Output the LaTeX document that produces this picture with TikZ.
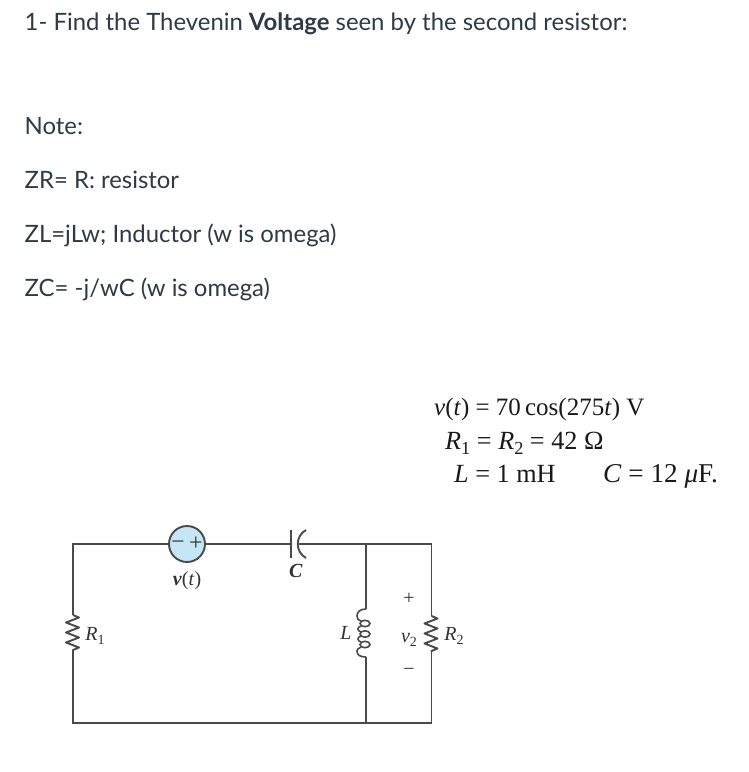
\documentclass[tikz,border=0pt]{standalone}
\usepackage{fontspec}
\setmainfont{Lato}
\newfontfamily\serifb{Liberation Serif}
\definecolor{wirec}{HTML}{4A4A4A}
\definecolor{txtc}{HTML}{2D3B45}
\definecolor{srcc}{HTML}{C4E6F5}
\tikzset{
  wire/.style={draw=wirec,line width=1.9pt},
  prose/.style={anchor=base west,inner sep=0pt,text=txtc,font=\fontsize{23.9}{28}\selectfont},
  eqn/.style={anchor=base west,inner sep=0pt,text=black!90,font=\serifb\fontsize{25}{28}\selectfont},
  eqnb/.style={eqn,font=\serifb\fontsize{26.2}{28}\selectfont},
  eqnc/.style={eqn,font=\serifb\fontsize{27.2}{28}\selectfont},
  lbl/.style={anchor=base,inner sep=0pt,text=black!80,font=\serifb\fontsize{20}{22}\selectfont},
  src/.style={circle,draw=wirec,line width=1.9pt,fill=srcc,minimum size=36pt,inner sep=0pt},
  sign/.style={inner sep=0pt,text=black!80,font=\serifb\fontsize{24}{24}\selectfont}
}
\newcommand{\ital}[1]{\textit{#1}}
\newcommand{\lowsub}[1]{\raisebox{-0.2em}{\scalebox{0.7}{#1}}}
\begin{document}
\begin{tikzpicture}[x=1pt,y=-1pt]
\useasboundingbox (0,0) rectangle (748,772);
\fill[white] (0,0) rectangle (748,772);
% prose
\node[prose] (t1) at (24.5,30) {1- Find the Thevenin \textbf{Voltage} seen by the second resistor:};
\node[prose] (t2) at (24.5,134) {Note:};
\node[prose] (t3) at (24.5,188) {ZR= R: resistor};
\node[prose] (t4) at (24.5,242) {ZL=jLw; Inductor (w is omega)};
\node[prose] (t5) at (24.5,296) {ZC= -j/wC (w is omega)};
% equations
\node[eqn] (e1) at (434,415) {\ital{v}(\ital{t}) = 70\,cos(275\ital{t}) V};
\node[eqnb] (e2) at (445,449) {\ital{R}\lowsub{1} = \ital{R}\lowsub{2} = 42 Ω};
\node[eqnb] (e3) at (454,482) {\ital{L} = 1 mH};
\node[eqnc] (e4) at (603,482) {\ital{C} = 12 \ital{μ}F.};
% corners
\coordinate (tl) at (73,544);
\coordinate (bl) at (73,723);
\coordinate (tm) at (366,544);
\coordinate (bm) at (366,723);
\coordinate (tr) at (431.5,544);
\coordinate (br) at (431.5,723);
\coordinate (r1a) at (73,615);
\coordinate (r1b) at (73,652);
\coordinate (r2a) at (431.5,616);
\coordinate (r2b) at (431.5,652);
\coordinate (la) at (366,609);
\coordinate (lb) at (366,657);
\coordinate (c1) at (291,544);
\coordinate (c2) at (299,544);
% source
\node[src] (vs) at (187,544) {};
\node[sign] (vm) at (178,545) {−};
\node[sign] (vp) at (196,544) {+};
% wires
\draw[wire] (r1a) -- (tl) -- (vs);
\draw[wire] (vs) -- (c1);
\draw[wire] (c2) -- (tr) -- (r2a);
\draw[wire] (r1b) -- (bl) -- (br) -- (r2b);
\draw[wire] (tm) -- (la);
\draw[wire] (lb) -- (bm);
% capacitor
\draw[wire] (291,530) -- (291,558);
\draw[wire] (306,530) .. controls (295,536) and (295,552) .. (306,558);
% resistors
\draw[wire,line join=round] (r1a) -- ++(6,2.5) -- ++(-13,5) -- ++(13,5) -- ++(-13,5) -- ++(13,5) -- ++(-13,5) -- ++(13,5) -- ++(-6,2.5) -- (r1b);
\draw[wire,line join=round] (r2a) -- ++(6,2.5) -- ++(-13,5) -- ++(13,5) -- ++(-13,5) -- ++(13,5) -- ++(-13,5) -- ++(13,5) -- ++(-6,2.5) -- (r2b);
% inductor
\draw[wire,line width=1.6pt] (la) .. controls (360,609) and (357,612) .. (357,616)
  .. controls (357,619) and (358,620) .. (361,621);
\draw[wire,line width=1.6pt] (361,626) .. controls (357,627) and (357,631) .. (361,632);
\draw[wire,line width=1.6pt] (361,636) .. controls (357,637) and (357,641) .. (361,642);
\draw[wire,line width=1.6pt] (361,647) .. controls (358,648) and (357,650) .. (357,651)
  .. controls (357,655) and (360,657) .. (lb);
\draw[wire,line width=1.6pt] (365,623.5) ellipse [x radius=5,y radius=3.2];
\draw[wire,line width=1.6pt] (365,634) ellipse [x radius=5,y radius=3.2];
\draw[wire,line width=1.6pt] (365,644.5) ellipse [x radius=5,y radius=3.2];
% labels
\node[lbl] (lv) at (187,585) {\textit{\textbf{v}}(\textit{t})};
\node[lbl] (lc) at (296,577) {\textit{\textbf{C}}};
\node[lbl] (lr1) at (95,640) {\textit{R}\lowsub{1}};
\node[lbl] (ll) at (346,639) {\textit{L}};
\node[lbl] (lp) at (409,604) {+};
\node[lbl] (lv2) at (409,642) {\textit{v}\lowsub{2}};
\node[lbl] (lm) at (409,675) {−};
\node[lbl] (lr2) at (454,640) {\textit{R}\lowsub{2}};
\end{tikzpicture}
\end{document}
